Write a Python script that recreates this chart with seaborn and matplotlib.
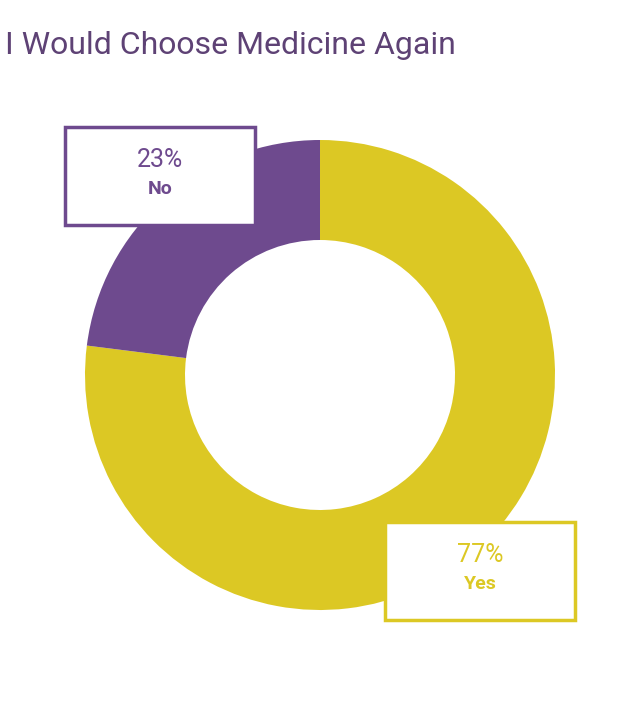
import matplotlib
matplotlib.use("Agg")
import matplotlib.pyplot as plt
import seaborn as sns
from matplotlib.patches import Rectangle

labels = ["Yes", "No"]
values = [77, 23]
colors = ["#DCC824", "#6E4A8E"]
title = "I Would Choose Medicine Again"

sns.set_style("white")
plt.rcParams['font.family'] = ['Roboto', 'DejaVu Sans']

H = 708
fig = plt.figure(figsize=(6.4, 7.08), dpi=100)
ax = fig.add_axes([0, 0, 1, 1])
ax.set_xlim(0, 640)
ax.set_ylim(0, H)
ax.set_aspect("equal")
ax.axis("off")

ax.pie(values, colors=colors, startangle=90, counterclock=False,
       center=(320, H - 375), radius=235,
       wedgeprops=dict(width=100, linewidth=0))
ax.set_xlim(0, 640)
ax.set_ylim(0, H)

fig.text(5 / 640, 1 - 45 / H, title, color="#5E4275", fontsize=23,
         va="center", ha="left", fontstretch="condensed")

boxes = [(385, 522, "Yes", colors[0]), (65, 127, "No", colors[1])]
for (x0, y0, lab, col) in boxes:
    v = values[labels.index(lab)]
    ax.add_patch(Rectangle((x0, H - y0 - 98), 190, 98, facecolor="white",
                           edgecolor=col, linewidth=2.5, zorder=5))
    ax.text(x0 + 95, H - y0 - 33, f"{v}%", color=col, fontsize=18,
            ha="center", va="center", zorder=6)
    ax.text(x0 + 95, H - y0 - 62, lab, color=col, fontsize=14,
            fontweight="bold", ha="center", va="center", zorder=6)

fig.savefig("out.png", dpi=100)
